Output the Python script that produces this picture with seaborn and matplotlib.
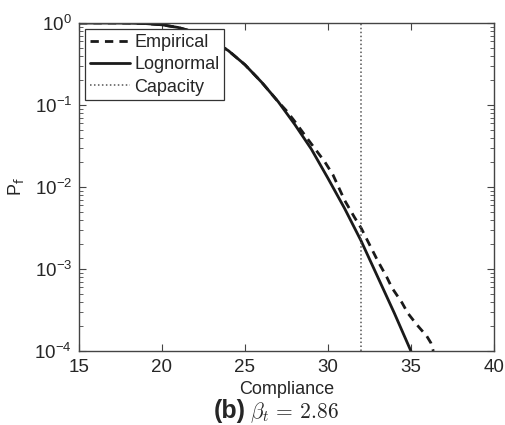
import numpy as np
import pandas as pd
import matplotlib
matplotlib.use("Agg")
import matplotlib.pyplot as plt
import seaborn as sns

# Values
lognormal_x = [15, 17, 18, 19, 20, 21, 22, 23, 24, 25, 26, 27, 28, 29, 30, 31, 32, 33, 34, 35]
lognormal_pf = [1.0, 0.9995, 0.996, 0.984, 0.95, 0.88, 0.77, 0.62, 0.46, 0.31, 0.19,
                0.11, 0.058, 0.029, 0.0128, 0.0055, 0.0022, 0.00080, 0.00029, 0.0001]

empirical_x = [15, 17, 18, 19, 20, 21, 22, 23, 24, 25, 26, 27, 27.5, 28, 28.8, 29.8, 30.3,
               31.0, 31.6, 32.0, 32.35, 33.0, 33.55, 33.86, 34.46, 34.82, 35.36, 35.96,
               36.2, 36.35]
empirical_logpf = [0.0, -0.0002, -0.002, -0.007, -0.022, -0.056, -0.114, -0.208, -0.337,
                   -0.509, -0.72, -0.96, -1.07, -1.2, -1.42, -1.69, -1.85, -2.16, -2.37,
                   -2.5, -2.64, -2.9, -3.1, -3.23, -3.41, -3.54, -3.68, -3.82, -3.9, -4.0]

capacity = 32
beta_t = 2.86

df_logn = pd.DataFrame({"Compliance": lognormal_x, "Pf": lognormal_pf})
df_emp = pd.DataFrame({"Compliance": empirical_x, "Pf": 10.0 ** np.array(empirical_logpf)})

sns.set_style("ticks")
plt.rcParams["font.family"] = ["Liberation Sans", "DejaVu Sans"]
plt.rcParams["xtick.direction"] = "in"
plt.rcParams["ytick.direction"] = "in"

fig = plt.figure(figsize=(5.05, 4.25), dpi=100)
ax = fig.add_axes([0.1564, 0.1741, 0.8216, 0.7718])

sns.lineplot(data=df_emp, x="Compliance", y="Pf", ax=ax, color="#1a1a1a",
             linewidth=2.0, linestyle=(0, (3, 2.2)), label="Empirical")
sns.lineplot(data=df_logn, x="Compliance", y="Pf", ax=ax, color="#1a1a1a",
             linewidth=2.0, label="Lognormal")
ax.axvline(capacity, color="#555555", linewidth=1.1, linestyle=(0, (1, 1.6)), label="Capacity")

ax.set_yscale("log")
ax.set_xlim(15, 40)
ax.set_ylim(1e-4, 1)
ax.set_xticks([15, 20, 25, 30, 35, 40])
ax.tick_params(which="both", top=True, right=True, labelsize=13.5, color="#444444")
ax.tick_params(which="major", length=5, width=0.8)
ax.tick_params(which="minor", length=3, width=0.6)
ax.tick_params(axis="x", pad=6)
ax.tick_params(axis="y", pad=5)
for s in ax.spines.values():
    s.set_color("#444444")
    s.set_linewidth(1.0)

ax.set_xlabel("Compliance", fontsize=13, labelpad=3)
ax.set_ylabel(r"P$_{\mathrm{f}}$", fontsize=13, labelpad=6)

leg = ax.legend(loc="upper left", fontsize=13, frameon=True, fancybox=False,
                framealpha=1, edgecolor="#333333", handlelength=2.2,
                handletextpad=0.25, labelspacing=0.3, borderpad=0.25,
                borderaxespad=0.35)
leg.get_frame().set_linewidth(0.9)

fig.text(0.487, 0.017, "(b)", fontsize=18, fontweight="bold", ha="right", va="baseline")
fig.text(0.495, 0.017, r"$\beta_t\,=\,%.2f$" % beta_t, fontsize=15.5, ha="left",
         va="baseline", math_fontfamily="cm")

fig.savefig("out.png", dpi=100)
